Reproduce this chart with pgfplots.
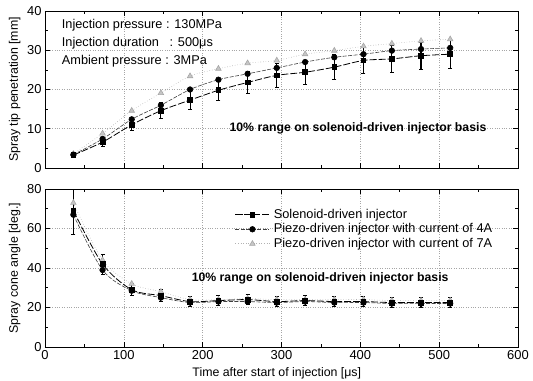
\documentclass[border=0pt]{standalone}
\usepackage{fontspec}
\setmainfont{Liberation Sans}
\usepackage{pgfplots}
\pgfplotsset{compat=1.18}
\usepackage{pgfplotstable}

\pgfplotstableread{
x    sol   a4    a7    e
36   3.3   3.4   3.6   0.5
73   6.6   7.4   8.8   1.0
110  11.0  12.4  14.6  1.5
147  14.6  16.0  19.1  2.0
184  17.3  20.0  23.4  2.3
220  19.8  22.5  25.3  2.6
257  21.8  24.0  26.7  2.8
294  23.6  25.5  27.4  3.0
330  24.4  27.0  29.0  3.1
367  25.7  28.2  29.9  3.2
404  27.4  29.0  31.0  3.3
440  27.8  29.9  31.7  3.4
477  28.6  30.3  32.4  3.4
514  29.0  30.6  32.8  3.5
}\pen

\pgfplotstableread{
x    sol   a4    a7    e
36   69.0  67.0  73.0  12.0
73   42.0  39.0  44.0  5.0
110  29.0  28.5  32.0  3.0
147  26.0  25.0  28.0  3.0
184  23.0  22.5  24.0  2.5
220  23.5  23.0  24.0  2.5
257  24.0  23.0  24.5  2.5
294  23.0  22.5  24.0  2.5
330  23.5  23.0  24.0  2.5
367  23.0  22.5  24.0  2.5
404  23.0  22.5  24.0  2.5
440  22.5  22.0  23.5  2.5
477  22.5  22.0  23.5  2.5
514  22.5  22.0  23.5  2.5
}\ang

\begin{document}
\begin{tikzpicture}
\pgfplotsset{
  common/.style={
    scale only axis,
    width=473bp,
    xmin=0, xmax=600,
    xtick={0,100,...,600},
    minor x tick num=1,
    tick align=inside,
    ticks=both,
    major tick length=5bp,
    minor tick length=3bp,
    every tick/.style={black, line width=0.6pt},
    axis line style={line width=0.9pt},
    grid=major,
    major grid style={gray!70, dotted, line width=0.6pt},
    tick label style={font=\fontsize{13}{15}\selectfont},
    label style={font=\fontsize{12.4}{14}\selectfont},
    /pgf/number format/assume math mode=true,
    clip=true,
  },
  sol/.style={black, line width=0.8pt, dash pattern=on 7pt off 2pt, mark=square*, mark size=2.4bp, mark options={solid, fill=black},
    error bars/y dir=both, error bars/y explicit,
    error bars/error mark options={black, rotate=90, mark size=2bp, solid, line width=0.8pt},
    error bars/error bar style={solid, line width=1.1pt}},
  p4/.style={black!75, line width=0.6pt, dash pattern=on 4pt off 1.5pt, mark=*, mark size=2.8bp, mark options={solid, fill=black, draw=black}},
  p7/.style={gray!60, line width=0.6pt, dotted, mark=triangle*, mark size=3.2bp, mark options={solid, fill=gray!45, draw=gray!70}},
}

\begin{axis}[common,
  name=top,
  at={(0,0)}, anchor=south west,
  height=157bp,
  ymin=0, ymax=40,
  ytick={0,10,...,40},
  minor y tick num=1,
  xticklabels={},
  ylabel={Spray tip penetration [mm]},
  ylabel style={at={(axis description cs:-0.064,0.5)}, anchor=center},
]
\addplot[p7, smooth] table[x=x, y=a7] {\pen};
\addplot[p4, smooth] table[x=x, y=a4] {\pen};
\addplot[smooth, sol] table[x=x, y=sol, y error=e] {\pen};
\node[anchor=west, font=\fontsize{12.8}{14}\selectfont] at (axis cs:17,36.4) {Injection pressure : 130MPa};
\node[anchor=west, font=\fontsize{12.8}{14}\selectfont] at (axis cs:17,31.8) {Injection duration\ \ \ : 500μs};
\node[anchor=west, font=\fontsize{12.8}{14}\selectfont] at (axis cs:17,27.2) {Ambient pressure : 3MPa};
\node[font=\fontsize{12.3}{14}\selectfont\bfseries] at (axis cs:397,10.2) {10\% range on solenoid-driven injector basis};
\end{axis}

\begin{axis}[common,
  at={(0,-21bp)}, anchor=north west,
  height=158bp,
  ymin=0, ymax=80,
  ytick={0,20,...,80},
  minor y tick num=1,
  xlabel={Time after start of injection [μs]},
  ylabel={Spray cone angle [deg.]},
  ylabel style={at={(axis description cs:-0.064,0.5)}, anchor=center},
  xlabel style={at={(axis description cs:0.49,-0.165)}, anchor=center},
  legend style={at={(axis description cs:0.395,0.895)}, anchor=north west, draw=none, fill=none,
    font=\fontsize{12.8}{14}\selectfont, row sep=0.5bp,
    nodes={inner sep=1bp, text height=9.5bp, text depth=2.5bp}},
  legend cell align=left,
  /tikz/every odd column/.append style={column sep=3bp},
  legend image code/.code={\draw[mark repeat=2, mark phase=2] plot coordinates {(0cm,0cm) (0.6cm,0cm) (1.2cm,0cm)};},
  reverse legend,
]
\addplot[p7, smooth] table[x=x, y=a7] {\ang};
\addlegendentry{Piezo-driven injector with current of 7A}
\addplot[p4, smooth] table[x=x, y=a4] {\ang};
\addlegendentry{Piezo-driven injector with current of 4A}
\addplot[smooth, sol] table[x=x, y=sol, y error=e] {\ang};
\addlegendentry{Solenoid-driven injector}
\node[font=\fontsize{12.3}{14}\selectfont\bfseries] at (axis cs:349,35) {10\% range on solenoid-driven injector basis};
\end{axis}

\pgfresetboundingbox
\path (-45bp,-213bp) rectangle (488bp,168bp);
\end{tikzpicture}
\end{document}
